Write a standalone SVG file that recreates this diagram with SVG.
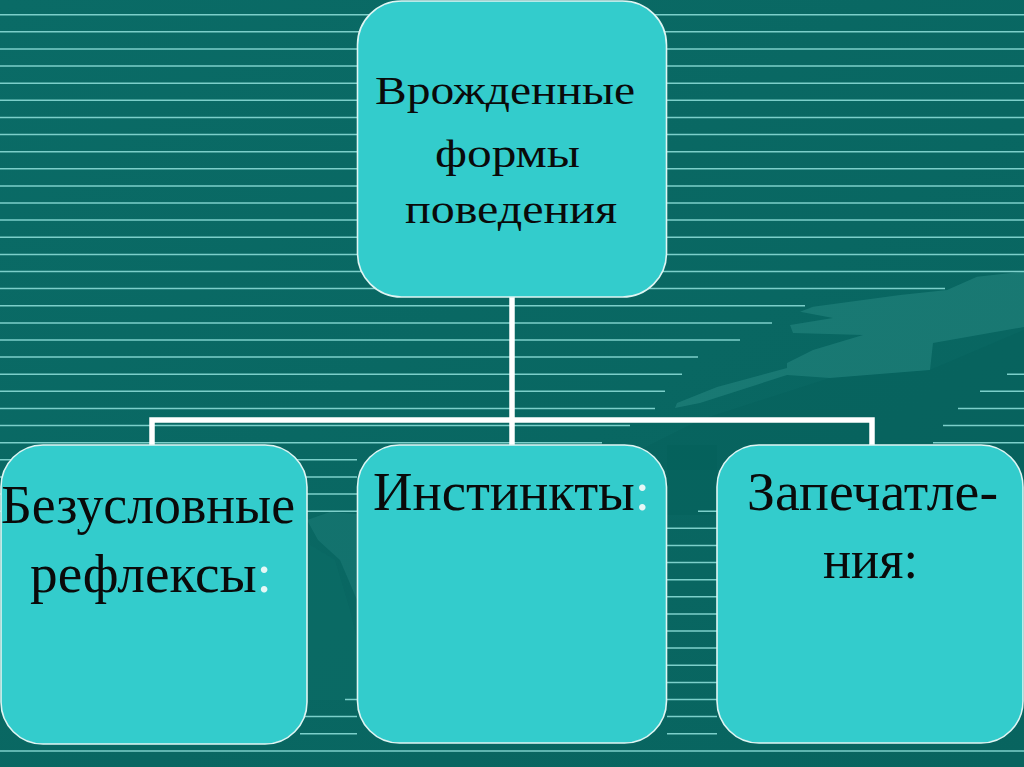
<svg xmlns="http://www.w3.org/2000/svg" width="1024" height="767" viewBox="0 0 1024 767">
  <defs>
    <style>
      .ln { stroke: #7ccfca; stroke-width: 1.5; fill: none; }
      .box { fill: #33cccc; stroke: #dff5f3; stroke-width: 1.6; }
      .lbl { font-family: "Liberation Serif", "Times New Roman", serif; fill: #0a0a0a; }
      .t1 { font-size: 41px; }
      .t2 { font-size: 55px; }
      .wc { fill: #e6f7f6; }
      .conn { stroke: #ffffff; stroke-width: 5.5; fill: none; stroke-linejoin: miter; stroke-linecap: butt; }
    </style>
    <linearGradient id="bgGrad" x1="0" y1="0" x2="1" y2="1">
      <stop offset="0" stop-color="#0a6b66"/>
      <stop offset="1" stop-color="#08645f"/>
    </linearGradient>
  </defs>

  <!-- background -->
  <rect x="0" y="0" width="1024" height="767" fill="url(#bgGrad)"/>

  <!-- decorative swoosh shapes -->
  <g id="decor">
    <path d="M600 470 L700 420 L830 378 L930 370 L1024 330 L1024 520 L900 470 L760 470 Z" fill="#045b56" opacity="0.25"/>
    <path d="M1024 271.7 L977 276.7 L947 290 L900 295 L813 306.7 L800 311.7 L833 318 L790 325 L793 333 L863 335 L813 350 L787 363 L787 368 L717 387 L677 403 L675 408 L700 403 L787 375 L830 378 L930 370 L933 343 L1024 327 Z" fill="#3fa39d" opacity="0.3"/>
    <path d="M307 520 L330 512 L357 514 L357 600 L340 560 L318 540 Z" fill="#2f918b" opacity="0.28"/>
    <path d="M310 545 L335 560 L350 610 L357 640 L357 700 L307 700 Z" fill="#0f716b" opacity="0.35"/>
    <path d="M667 445 L717 445 L717 515 L667 515 Z" fill="#045e59" opacity="0.35"/>
  </g>

  <!-- background ruled lines -->
  <g id="ruling">
    <path class="ln" d="M0 14.7H1024M0 31.8H1024M0 48.9H1024M0 66.1H1024M0 83.2H1024M0 100.3H1024M0 117.4H1024M0 134.5H1024M0 151.7H1024M0 168.8H1024M0 185.9H1024M0 203H1024M0 220.1H1024M0 237.3H1024M0 254.4H1024M0 271.5H1024"/>
    <path class="ln" d="M0 288.6H945M0 305.7H805M0 322.9H772M0 340H740M0 357.1H698M0 374.2H682M1007 374.2H1024M0 391.3H665M980 391.3H1024M0 408.5H655M958 408.5H1024M0 425.6H630M943 425.6H1024M0 442.7H602M933 442.7H1024"/>
    <path class="ln" d="M0 459.8H357M0 476.9H357M0 494.1H357M0 511.2H357M698 511.2H717"/>
    <path class="ln" d="M667 528.3H717M667 545.4H717M667 562.5H717M667 579.7H717M667 596.8H717M667 613.9H717M667 631H717M667 648.1H717M667 665.3H717M667 682.4H717M667 699.5H717M667 716.6H717M667 733.7H717"/>
    <path class="ln" d="M345 699.5H357M300 716.6H357M300 733.7H357M0 750.9H1024"/>
  </g>

  <!-- connectors -->
  <g id="connectors">
    <path class="conn" d="M512 297V420"/>
    <path class="conn" d="M152 446V420H872V446"/>
    <path class="conn" d="M512 420V446"/>
  </g>

  <!-- nodes -->
  <g id="node-root">
    <rect class="box" x="357.5" y="1" width="309" height="296" rx="44" ry="44"/>
    <text class="lbl t1" x="375" y="104" textLength="260" lengthAdjust="spacingAndGlyphs">Врожденные</text>
    <text class="lbl t1" x="435" y="167" textLength="145" lengthAdjust="spacingAndGlyphs">формы</text>
    <text class="lbl t1" x="405" y="223" textLength="212" lengthAdjust="spacingAndGlyphs">поведения</text>
  </g>

  <g id="node-reflexes">
    <rect class="box" x="1" y="445" width="306" height="299" rx="42" ry="42"/>
    <text class="lbl t2" x="1" y="523" textLength="294" lengthAdjust="spacingAndGlyphs">Безусловные</text>
    <text class="lbl t2" x="30" y="592" textLength="242" lengthAdjust="spacingAndGlyphs">рефлексы<tspan class="wc">:</tspan></text>
  </g>

  <g id="node-instincts">
    <rect class="box" x="357.5" y="445" width="309" height="298" rx="42" ry="42"/>
    <text class="lbl t2" x="373" y="510" textLength="277" lengthAdjust="spacingAndGlyphs">Инстинкты<tspan class="wc">:</tspan></text>
  </g>

  <g id="node-imprinting">
    <rect class="box" x="717" y="445" width="306" height="298" rx="42" ry="42"/>
    <text class="lbl t2" x="747" y="510" textLength="251" lengthAdjust="spacingAndGlyphs">Запечатле-</text>
    <text class="lbl t2" x="823" y="578" textLength="95" lengthAdjust="spacingAndGlyphs">ния:</text>
  </g>
</svg>
